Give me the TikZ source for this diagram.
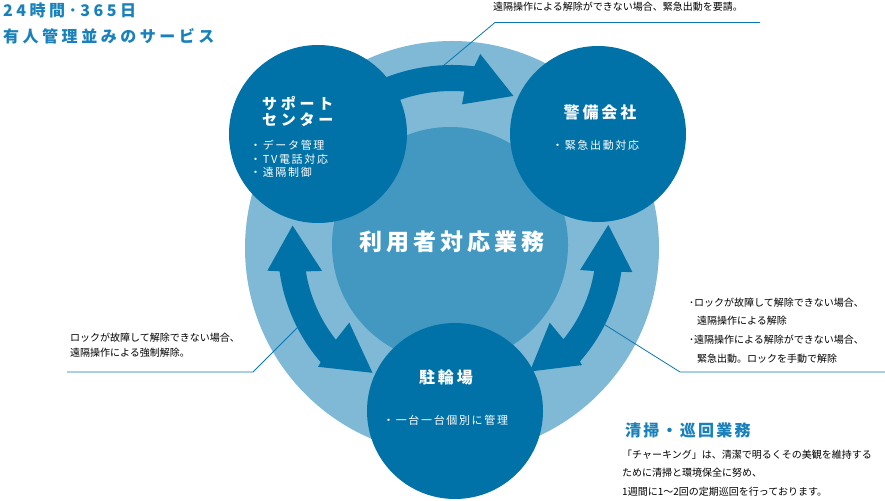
\documentclass[tikz,border=0pt]{standalone}
\usepackage{fontspec}
\newfontfamily\jp{Noto Sans CJK JP}
\definecolor{darkb}{RGB}{0,114,167}
\definecolor{ringb}{RGB}{127,185,213}
\definecolor{midb}{RGB}{67,152,194}
\definecolor{titleb}{RGB}{24,128,186}
\definecolor{lineb}{RGB}{10,119,176}
\newcommand\lsp[1]{\addfontfeature{LetterSpace=#1}}
\begin{document}
\begin{tikzpicture}[x=1pt,y=1pt,
  ttl/.style={anchor=west,inner sep=0pt,text=titleb,font=\jp\bfseries\fontsize{16}{19}\selectfont\lsp{22}},
  clabel/.style={anchor=west,inner sep=0pt,text=white,font=\jp\bfseries\fontsize{15}{18}\selectfont\lsp{25}},
  cbig/.style={inner sep=0pt,text=white,font=\jp\bfseries\fontsize{16}{19}\selectfont\lsp{18}},
  cbul/.style={anchor=west,inner sep=0pt,text=white,font=\jp\fontsize{11}{13}\selectfont\lsp{15}},
  ann/.style={anchor=west,inner sep=0pt,text=black,font=\jp\fontsize{10}{12}\selectfont},
  disc/.style={circle,inner sep=0pt,draw=none},
  conn/.style={draw=lineb,line width=0.8pt},
  arr/.style={fill=darkb}]
\useasboundingbox (0,0) rectangle (885,500);
% background discs
\node[disc,fill=ringb,minimum size=414pt] (ring) at (452,252) {};
\node[disc,fill=midb,minimum size=236pt] (core) at (450,255) {};
% arrows
\begin{scope}[shift={(452,252)}]
  \fill[arr] (120:157) arc[start angle=120,end angle=85.5,radius=157pt]
    -- (86:144) -- (68:164) -- (81.7:196) -- (83:183)
    arc[start angle=83,end angle=120,radius=183pt] -- cycle;
  \fill[arr] (172:161) -- (187:186) -- (187.7:174)
    arc[start angle=187.7,end angle=221,radius=174pt]
    -- (221.6:179) -- (237.5:148) -- (216:127) -- (218.3:148)
    arc[start angle=218.3,end angle=189.1,radius=148pt]
    -- (190:132) -- cycle;
  \fill[arr] (8.4:158) -- (-7.6:182) -- (-8.05:171)
    arc[start angle=-8.05,end angle=-41.6,radius=171pt]
    -- (-42:175) -- (-57.8:146) -- (-37.4:123) -- (-39.3:144)
    arc[start angle=-39.3,end angle=-9.2,radius=144pt]
    -- (-9.75:130) -- cycle;
\end{scope}
% main circles
\node[disc,fill=darkb,minimum size=178pt] (support) at (318,366) {};
\node[disc,fill=darkb,minimum size=176pt] (security) at (598,366) {};
\node[disc,fill=darkb,minimum size=176pt] (parking) at (455,89) {};
% titles
\node[ttl] (t1) at (3,490) {24時間･365日};
\node[ttl] (t2) at (3,464) {有人管理並みのサービス};
% support center
\node[clabel] (s1) at (262,397) {サポート};
\node[clabel] (s2) at (262,380) {センター};
\node[cbul] (s3) at (250,355) {・データ管理};
\node[cbul] (s4) at (250,341) {・TV電話対応};
\node[cbul] (s5) at (250,328) {・遠隔制御};
% security
\node[cbig] (k1) at (600,388) {警備会社};
\node[cbul] (k2) at (552,355) {・緊急出動対応};
% core
\node[inner sep=0pt,text=white,font=\jp\bfseries\fontsize{23}{27}\selectfont\lsp{17}] (c1) at (452,258) {利用者対応業務};
% parking
\node[cbig] (p1) at (446,123) {駐輪場};
\node[cbul] (p2) at (383,80) {・一台一台個別に管理};
% annotations
\node[ann] (a1) at (493,493) {遠隔操作による解除ができない場合、緊急出動を要請。};
\coordinate (a1r) at (760,477.5);
\coordinate (a1k) at (495,477.5);
\coordinate (a1e) at (443,434);
\draw[conn] (a1r) -- (a1k) -- (a1e);
\node[ann] (b1) at (70,162) {ロックが故障して解除できない場合、};
\node[ann] (b2) at (70,147) {遠隔操作による強制解除。};
\coordinate (b1l) at (67,128);
\coordinate (b1k) at (253,128);
\coordinate (b1e) at (303,178);
\draw[conn] (b1l) -- (b1k) -- (b1e);
\node[ann] (r1) at (689,197) {･ロックが故障して解除できない場合、};
\node[ann] (r2) at (697,179) {遠隔操作による解除};
\node[ann] (r3) at (689,160) {･遠隔操作による解除ができない場合、};
\node[ann] (r4) at (697,141) {緊急出動。ロックを手動で解除};
\coordinate (r1r) at (885,128);
\coordinate (r1k) at (680,128);
\coordinate (r1e) at (602,177);
\draw[conn] (r1r) -- (r1k) -- (r1e);
% cleaning
\node[ttl,font=\jp\bfseries\fontsize{16}{19}\selectfont\lsp{14}] (q0) at (625,70) {清掃・巡回業務};
\node[ann] (q1) at (622,45) {「チャーキング」は、清潔で明るくその美観を維持する};
\node[ann] (q2) at (622,27) {ために清掃と環境保全に努め、};
\node[ann] (q3) at (622,8) {1週間に1〜2回の定期巡回を行っております。};
\end{tikzpicture}
\end{document}
